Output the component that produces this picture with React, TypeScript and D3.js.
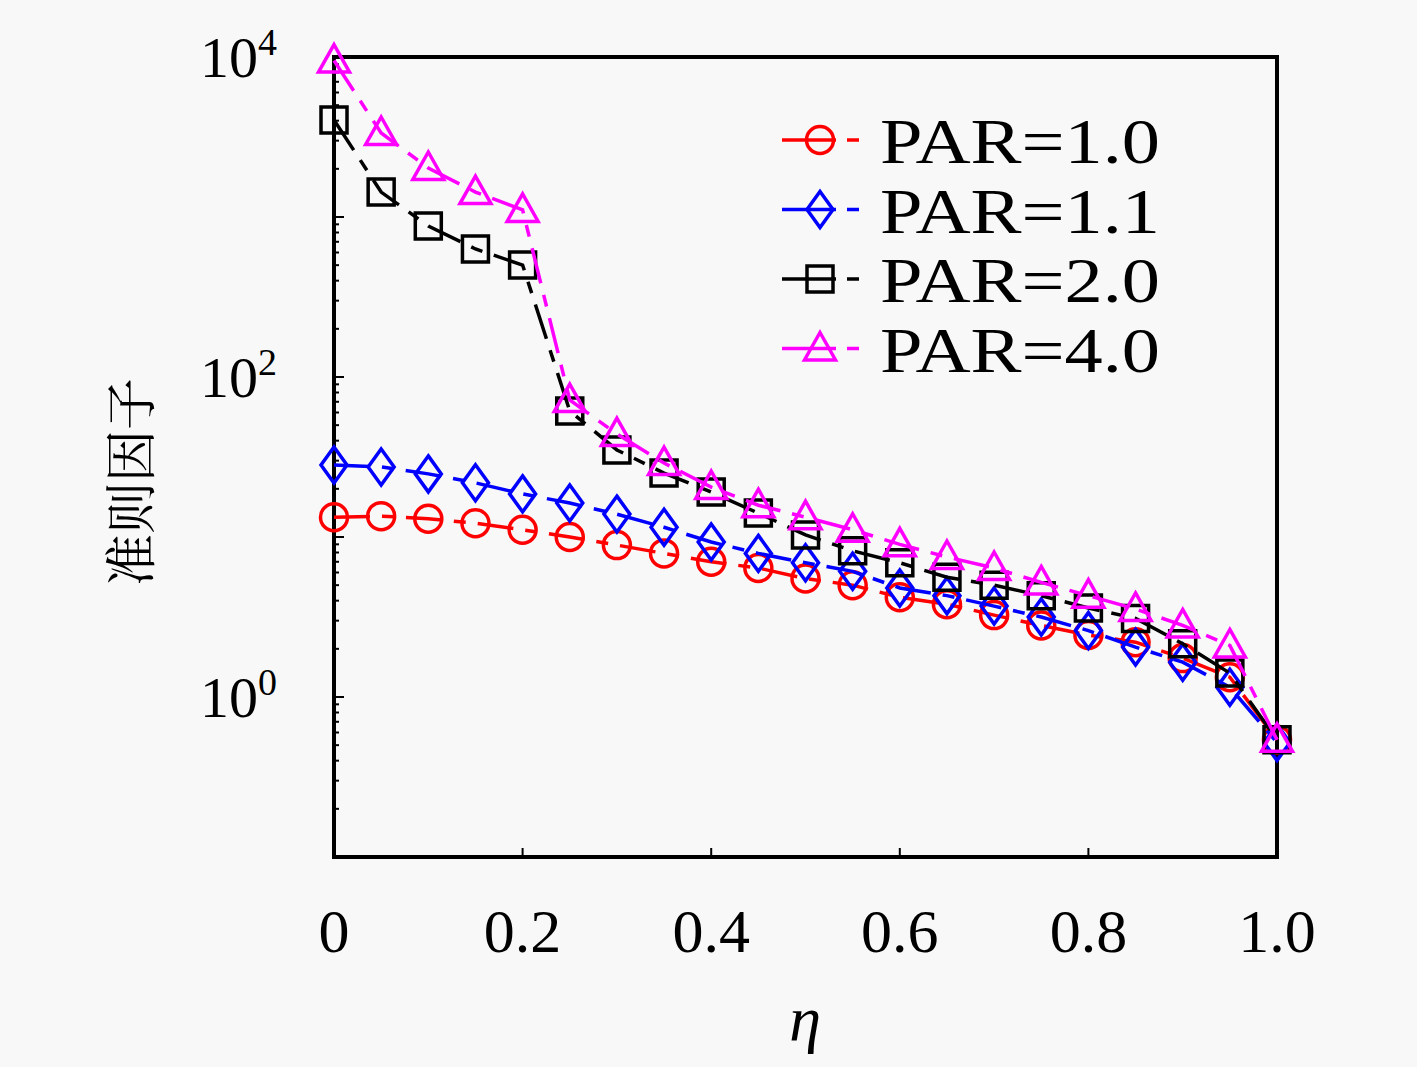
import { useEffect, useRef } from "react";
import * as d3 from "d3";

// η values (x axis)
const eta = [0, 0.05, 0.1, 0.15, 0.2, 0.25, 0.3, 0.35, 0.4, 0.45, 0.5, 0.55, 0.6, 0.65, 0.7, 0.75, 0.8, 0.85, 0.9, 0.95, 1.0];

// criterion factor for each PAR
const par10 = [13.3, 13.5, 13.0, 12.2, 11.1, 10.0, 8.9, 7.9, 7.0, 6.4, 5.5, 5.0, 4.2, 3.8, 3.25, 2.8, 2.44, 2.2, 1.75, 1.33, 0.54];
const par11 = [28.2, 27.4, 24.8, 21.8, 18.6, 16.3, 13.9, 11.5, 9.3, 7.9, 6.9, 6.1, 4.8, 4.3, 3.7, 3.16, 2.6, 2.05, 1.65, 1.15, 0.52];
const par20 = [4040, 1432, 879, 631, 501, 61.3, 35.0, 25.1, 19.1, 14.1, 10.3, 8.2, 6.9, 5.6, 5.0, 4.3, 3.6, 3.1, 2.15, 1.41, 0.54];
const par40 = [9500, 3350, 2024, 1432, 1107, 71.8, 44, 29, 20.5, 15.8, 13.3, 11.1, 9.0, 7.5, 6.4, 5.2, 4.3, 3.55, 2.8, 2.1, 0.54];

const seriesNames = ["PAR=1.0", "PAR=1.1", "PAR=2.0", "PAR=4.0"];
const seriesColors = ["#ff0000", "#0000ff", "#000000", "#ff00ff"];
const seriesMarkers = ["circle", "diamond", "square", "triangle"];
const seriesValues = [par10, par11, par20, par40];

const xTicks = [0, 0.2, 0.4, 0.6, 0.8, 1.0];
const xTickLabels = ["0", "0.2", "0.4", "0.6", "0.8", "1.0"];
const yTickExps = [0, 2, 4];

const markerPath = (type) => {
  // hollow marker shapes centred on 0,0
  if (type === "circle") return d3.arc()({ innerRadius: 0, outerRadius: 13.5, startAngle: 0, endAngle: 2 * Math.PI });
  if (type === "diamond") return "M0,-18L13,0L0,18L-13,0Z";
  if (type === "square") return "M-13,-13H13V13H-13Z";
  return "M0,-16L15.5,11.5H-15.5Z";
};

const Chart = () => {
  const ref = useRef();

  useEffect(() => {
    const svg = d3.select(ref.current).attr("width", 1417).attr("height", 1067);
    svg.selectAll("*").remove();

    svg.append("rect").attr("width", 1417).attr("height", 1067).attr("fill", "#f8f8f8");

    const left = 334, right = 1277, top = 57, bottom = 857;
    const x = d3.scaleLinear().domain([0, 1]).range([left, right]);
    const y = d3.scaleLog().domain([0.1, 10000]).range([bottom, top]);

    const serif = "'Liberation Serif', serif";

    // minor log ticks on the left axis (inward)
    const minor = [];
    for (let e = -1; e < 4; e++) for (let m = 1; m < 10; m++) minor.push(m * Math.pow(10, e));
    minor.push(10000);
    svg.append("g")
      .selectAll("line")
      .data(minor)
      .enter()
      .append("line")
      .attr("x1", left)
      .attr("x2", (d) => (Math.abs(Math.log10(d) - Math.round(Math.log10(d))) < 1e-6 ? left + 10 : left + 5))
      .attr("y1", (d) => y(d))
      .attr("y2", (d) => y(d))
      .attr("stroke", "#000")
      .attr("stroke-width", 2);

    // x ticks (inward)
    svg.append("g")
      .selectAll("line")
      .data(xTicks)
      .enter()
      .append("line")
      .attr("x1", (d) => x(d))
      .attr("x2", (d) => x(d))
      .attr("y1", bottom)
      .attr("y2", bottom - 9)
      .attr("stroke", "#000")
      .attr("stroke-width", 2);

    // frame
    svg.append("rect")
      .attr("x", left)
      .attr("y", top)
      .attr("width", right - left)
      .attr("height", bottom - top)
      .attr("fill", "none")
      .attr("stroke", "#000")
      .attr("stroke-width", 4);

    // x tick labels
    svg.append("g")
      .selectAll("text")
      .data(xTicks)
      .enter()
      .append("text")
      .attr("x", (d) => x(d))
      .attr("y", 952)
      .attr("text-anchor", "middle")
      .style("font-family", serif)
      .style("font-size", "62px")
      .text((d, i) => xTickLabels[i]);

    // y tick labels 10^n
    const yl = svg.append("g")
      .selectAll("text")
      .data(yTickExps)
      .enter()
      .append("text")
      .attr("x", 200)
      .attr("y", (d) => y(Math.pow(10, d)) + 20)
      .style("font-family", serif)
      .style("font-size", "58px");
    yl.append("tspan").text("10");
    yl.append("tspan").attr("dy", -22).style("font-size", "38px").text((d) => d);

    // axis titles
    svg.append("text")
      .attr("transform", `translate(150, 482) rotate(-90)`)
      .attr("text-anchor", "middle")
      .style("font-family", "'Noto Serif CJK SC', 'Noto Sans CJK SC', sans-serif")
      .style("font-size", "52px")
      .text("准则因子");

    svg.append("text")
      .attr("x", 805)
      .attr("y", 1040)
      .attr("text-anchor", "middle")
      .style("font-family", serif)
      .style("font-style", "italic")
      .style("font-size", "64px")
      .text("η");

    const line = d3.line().x((d) => x(d[0])).y((d) => y(d[1]));
    const dash = "36 12 12 12";

    seriesValues.forEach((vals, i) => {
      const pts = eta.map((e, j) => [e, vals[j]]);
      const g = svg.append("g");
      g.append("path")
        .attr("d", line(pts))
        .attr("fill", "none")
        .attr("stroke", seriesColors[i])
        .attr("stroke-width", 3.5)
        .attr("stroke-dasharray", dash);
      g.selectAll("path.m")
        .data(pts)
        .enter()
        .append("path")
        .attr("class", "m")
        .attr("transform", (d) => `translate(${x(d[0])},${y(d[1])})`)
        .attr("d", markerPath(seriesMarkers[i]))
        .attr("fill", "none")
        .attr("stroke", seriesColors[i])
        .attr("stroke-width", 3.5);
    });

    // legend
    const legend = svg.append("g");
    seriesNames.forEach((name, i) => {
      const cy = 140 + i * 69.5;
      legend.append("line")
        .attr("x1", 782).attr("x2", 836).attr("y1", cy).attr("y2", cy)
        .attr("stroke", seriesColors[i]).attr("stroke-width", 3.5);
      legend.append("line")
        .attr("x1", 847).attr("x2", 859).attr("y1", cy).attr("y2", cy)
        .attr("stroke", seriesColors[i]).attr("stroke-width", 3.5);
      legend.append("path")
        .attr("transform", `translate(820,${cy})`)
        .attr("d", markerPath(seriesMarkers[i]))
        .attr("fill", "none")
        .attr("stroke", seriesColors[i])
        .attr("stroke-width", 3.5);
      legend.append("text")
        .attr("x", 880)
        .attr("y", cy + 23)
        .attr("textLength", 280)
        .attr("lengthAdjust", "spacingAndGlyphs")
        .style("font-family", serif)
        .style("font-size", "64px")
        .text(name);
    });
  }, []);

  return <svg ref={ref} style={{ position: "absolute", left: 0, top: 0 }}></svg>;
};

export default function App() {
  return <Chart />;
}
